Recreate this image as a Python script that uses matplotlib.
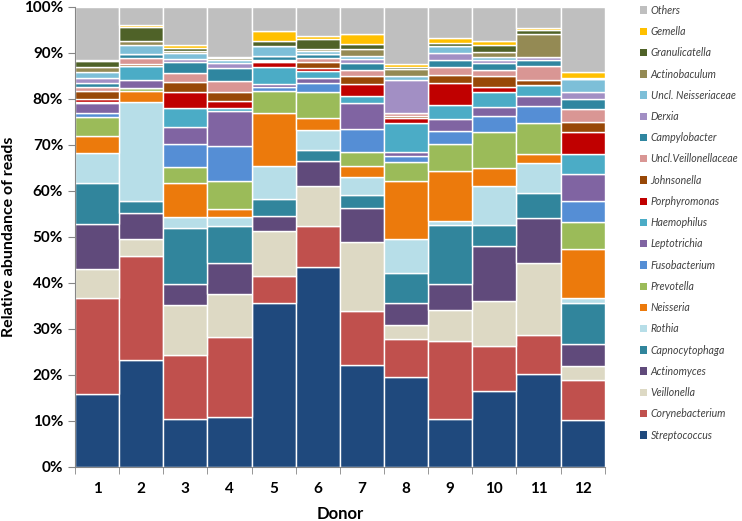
import numpy as np
import matplotlib
matplotlib.use("Agg")
import matplotlib.pyplot as plt
from matplotlib.patches import Patch

plt.rcParams["font.family"] = ["Lato", "DejaVu Sans"]

donors = ["1", "2", "3", "4", "5", "6", "7", "8", "9", "10", "11", "12"]

# stack order, bottom to top
taxa = ["Streptococcus", "Corynebacterium", "Veillonella", "Actinomyces",
        "Capnocytophaga", "Rothia", "Neisseria", "Prevotella", "Fusobacterium",
        "Leptotrichia", "Haemophilus", "Porphyromonas", "Johnsonella",
        "Uncl.Veillonellaceae", "Campylobacter", "Derxia", "Uncl. Neisseriaceae",
        "Actinobaculum", "Granulicatella", "Gemella", "Others"]

streptococcus = [15.9, 23.3, 10.5, 10.9, 35.7, 43.5, 22.1, 19.6, 10.5, 16.4, 20.2, 10.2]
corynebacterium = [20.7, 22.6, 13.8, 17.3, 5.8, 8.9, 11.7, 8.2, 16.9, 9.8, 8.4, 8.7]
veillonella = [6.5, 3.6, 10.8, 9.3, 9.7, 8.7, 15.0, 3.1, 6.7, 9.9, 15.7, 3.1]
actinomyces = [9.7, 5.6, 4.7, 6.8, 3.4, 5.3, 7.4, 4.8, 5.6, 11.8, 9.8, 4.7]
capnocytophaga = [9.0, 2.6, 12.2, 8.1, 3.6, 2.4, 2.8, 6.5, 12.8, 4.6, 5.4, 8.9]
rothia = [6.4, 21.7, 2.4, 1.8, 7.2, 4.5, 4.1, 7.3, 1.0, 8.6, 6.5, 1.1]
neisseria = [3.8, 2.2, 7.4, 1.9, 11.6, 2.5, 2.3, 12.7, 10.8, 3.8, 2.0, 10.6]
prevotella = [4.0, 0.7, 3.3, 6.1, 4.8, 5.6, 3.1, 4.0, 5.9, 7.8, 6.7, 6.0]
fusobacterium = [0.9, 0.0, 5.1, 7.6, 0.7, 2.1, 4.9, 1.3, 2.8, 3.5, 3.8, 4.4]
leptotrichia = [2.1, 1.8, 3.7, 7.6, 0.8, 1.1, 5.7, 1.0, 2.7, 2.1, 2.0, 6.0]
haemophilus = [0.3, 3.1, 4.1, 0.7, 3.6, 1.4, 1.6, 6.2, 3.0, 3.1, 2.4, 4.3]
porphyromonas = [0.6, 0.0, 3.5, 1.5, 1.2, 0.7, 2.6, 1.1, 4.7, 1.1, 0.0, 4.8]
johnsonella = [1.9, 0.3, 2.2, 1.8, 0.2, 1.3, 1.7, 0.4, 1.8, 2.4, 1.2, 2.1]
uncl_veillonellaceae = [0.7, 1.3, 1.9, 2.4, 0.2, 0.8, 1.3, 0.7, 1.6, 1.4, 3.1, 2.9]
campylobacter = [0.9, 1.0, 2.3, 2.9, 0.7, 0.9, 1.5, 0.0, 1.7, 1.5, 1.3, 2.2]
derxia = [1.2, 0.0, 0.7, 1.1, 0.0, 0.0, 0.8, 7.2, 1.4, 0.7, 0.6, 1.4]
uncl_neisseriaceae = [1.2, 1.8, 1.3, 0.7, 2.3, 0.6, 0.7, 0.8, 1.5, 0.6, 0.0, 2.9]
actinobaculum = [1.2, 0.9, 0.4, 0.3, 0.0, 0.5, 1.5, 1.6, 0.0, 1.1, 4.9, 0.0]
granulicatella = [1.3, 3.2, 0.7, 0.3, 1.0, 2.2, 1.1, 0.3, 0.8, 1.4, 0.9, 0.3]
gemella = [0.2, 0.4, 0.6, 0.0, 2.3, 0.7, 2.2, 0.8, 1.0, 0.9, 0.5, 1.2]
others = [11.5, 3.9, 8.4, 10.9, 5.2, 6.3, 5.9, 12.4, 6.8, 7.5, 4.6, 14.2]

series = [streptococcus, corynebacterium, veillonella, actinomyces, capnocytophaga,
          rothia, neisseria, prevotella, fusobacterium, leptotrichia, haemophilus,
          porphyromonas, johnsonella, uncl_veillonellaceae, campylobacter, derxia,
          uncl_neisseriaceae, actinobaculum, granulicatella, gemella, others]

colors = ["#1F497D", "#C0504D", "#DDD9C4", "#604A7B", "#31859C", "#B7DEE8",
          "#EC7A0C", "#9BBB59", "#558ED5", "#8064A2", "#4BACC6", "#C00000",
          "#984807", "#D99694", "#2F86A0", "#A28FC4", "#7DBFD8", "#948A54",
          "#4F6228", "#FFC000", "#BFBFBF"]

fig = plt.figure(figsize=(7.42, 5.21), dpi=100)
ax = fig.add_axes([0.101, 0.104, 0.714, 0.883])

x = np.arange(len(donors))
bottom = np.zeros(len(donors))
for name, vals, c in zip(taxa, series, colors):
    ax.bar(x, vals, bottom=bottom, width=1.0, color=c, edgecolor="white", linewidth=1.0)
    bottom += np.array(vals)

ax.set_xlim(-0.5, len(donors) - 0.5)
ax.set_ylim(0, 100)
ax.set_yticks(np.arange(0, 101, 10))
ax.set_yticklabels([f"{v}%" for v in range(0, 101, 10)], fontsize=11, fontweight="bold")
ax.set_xticks(x)
ax.set_xticklabels(donors, fontsize=11, fontweight="bold")
ax.set_xticks(np.arange(-0.5, len(donors)), minor=True)
ax.tick_params(axis="x", which="major", length=0, pad=11)
ax.tick_params(axis="x", which="minor", length=5, color="#868686")
ax.tick_params(axis="y", length=5, color="#868686")
for s in ["top", "right"]:
    ax.spines[s].set_visible(False)
for s in ["left", "bottom"]:
    ax.spines[s].set_color("#868686")

ax.set_xlabel("Donor", fontsize=12, fontweight="bold", labelpad=7)
ax.set_ylabel("Relative abundance of reads", fontsize=11.5, fontweight="bold", labelpad=6)

handles = [Patch(facecolor=c, edgecolor="none") for c in colors][::-1]
labels = taxa[::-1]
fig.legend(handles, labels, loc="upper left", bbox_to_anchor=(0.852, 1.005),
           frameon=False, prop={"style": "italic", "size": 7.6}, labelcolor="#404040",
           handlelength=0.7, handleheight=0.7, handletextpad=0.35, labelspacing=0.97,
           borderaxespad=0.3)

fig.savefig("out.png", dpi=100)
